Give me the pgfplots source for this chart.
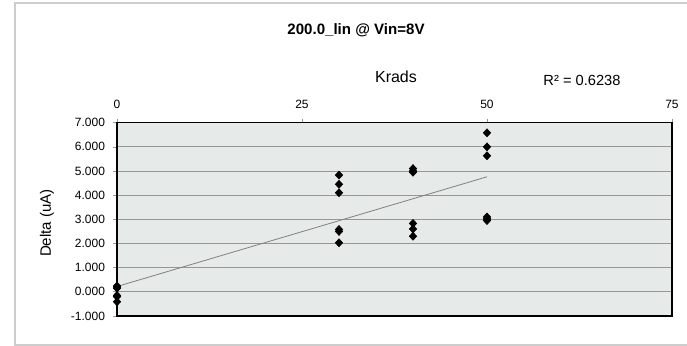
\documentclass[border=0pt]{standalone}
\usepackage{pgfplots}
\pgfplotsset{compat=1.18}
\usepackage{fontspec}
\setmainfont{Liberation Sans}
\definecolor{plotbg}{RGB}{230,234,233}
\definecolor{gridc}{RGB}{150,150,150}
\definecolor{framec}{RGB}{205,205,205}
\begin{document}
\begin{tikzpicture}[x=1pt,y=1pt]
\useasboundingbox (0,0) rectangle (515.25,259.5);
\draw[framec, line width=1.2pt] (530,257.25) -- (11.25,257.25) -- (11.25,0.75) -- (530,0.75);
\begin{axis}[
  at={(87.75pt,22.5pt)}, anchor=south west,
  scale only axis, width=416.25pt, height=145pt,
  xmin=0, xmax=75, ymin=-1, ymax=7,
  xtick={0,25,50,75}, ytick={-1,0,...,7},
  xticklabel pos=top, xtick pos=upper, ytick pos=lower,
  tick align=outside, major tick length=3pt,
  tick style={gridc, line width=0.5pt},
  ymajorgrids, major grid style={gridc, line width=0.6pt},
  axis background/.style={fill=plotbg},
  axis line style={black, line width=1.1pt},
  ticklabel style={font=\fontsize{9}{11}\selectfont},
  /pgf/number format/assume math mode=true,
  yticklabel style={xshift=-2.5pt, /pgf/number format/.cd, fixed, fixed zerofill, precision=3, 1000 sep={}},
  xticklabel style={yshift=4pt},
  clip=false,
]
\addplot[gray, line width=0.6pt] coordinates {(0,0.22) (50,4.76)};
\addplot[only marks, mark=diamond*, mark size=3pt, black, mark options={xscale=1.25}] coordinates {
  (0,0.24) (0,0.20) (0,0.15) (0,-0.15) (0,-0.20) (0,-0.41)
  (30,4.83) (30,4.45) (30,4.10) (30,2.58) (30,2.50) (30,2.03)
  (40,5.10) (40,5.00) (40,4.95) (40,2.83) (40,2.60) (40,2.30)
  (50,6.58) (50,6.00) (50,5.63) (50,3.10) (50,3.02) (50,2.95)
};
\end{axis}
\node[font=\fontsize{11.3}{13}\selectfont\bfseries] at (267,237) {200.0\_lin @ Vin=8V};
\node[font=\fontsize{12}{14}\selectfont] at (297,201.75) {Krads};
\node[font=\fontsize{11}{13}\selectfont] at (436.5,199.5) {R² = 0.6238};
\node[font=\fontsize{11.3}{13}\selectfont, rotate=90] at (35.25,92.25) {Delta (uA)};
\end{tikzpicture}
\end{document}
